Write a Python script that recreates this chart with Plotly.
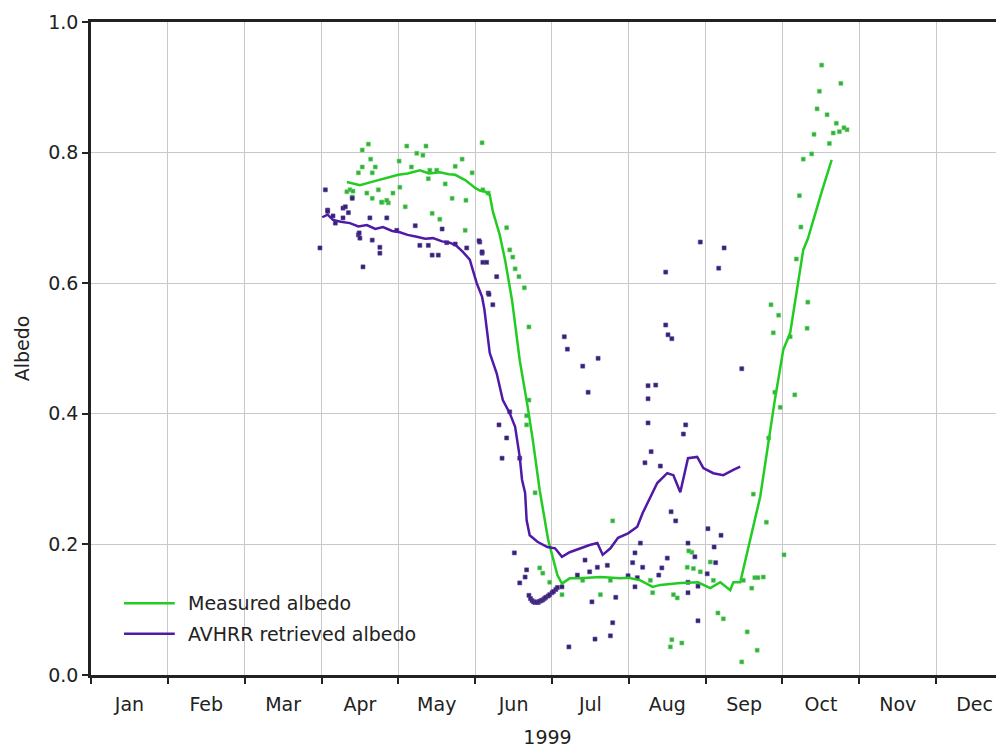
import plotly.graph_objects as go

months = ["Jan", "Feb", "Mar", "Apr", "May", "Jun", "Jul", "Aug", "Sep", "Oct", "Nov", "Dec"]
y_ticks = [0.0, 0.2, 0.4, 0.6, 0.8, 1.0]

# x in months since 1 Jan 1999 (uniform month widths as in the figure)
measured_line_x = [3.33, 3.50, 3.62, 3.76, 3.88, 4.00, 4.12, 4.28, 4.40, 4.54, 4.66, 4.74, 4.87, 5.00, 5.06, 5.13, 5.19,
                   5.23, 5.32, 5.39, 5.48, 5.58, 5.69, 5.75, 5.84, 5.95, 6.07, 6.13, 6.23, 6.36, 6.63, 6.89, 7.00,
                   7.15, 7.31, 7.41, 7.67, 7.90, 8.06, 8.19, 8.32, 8.36, 8.45, 8.71, 8.90, 9.01, 9.10, 9.20, 9.27,
                   9.33, 9.40, 9.51, 9.64]
measured_line_y = [0.755, 0.750, 0.754, 0.758, 0.762, 0.766, 0.768, 0.773, 0.768, 0.770, 0.767, 0.766, 0.758, 0.746,
                   0.742, 0.740, 0.735, 0.710, 0.674, 0.635, 0.574, 0.482, 0.406, 0.360, 0.283, 0.207, 0.153, 0.140,
                   0.148, 0.148, 0.150, 0.148, 0.149, 0.145, 0.135, 0.138, 0.141, 0.142, 0.133, 0.142, 0.130, 0.142,
                   0.142, 0.273, 0.421, 0.498, 0.524, 0.600, 0.651, 0.668, 0.697, 0.740, 0.789]

avhrr_line_x = [3.01, 3.08, 3.15, 3.25, 3.37, 3.48, 3.59, 3.70, 3.80, 3.92, 4.02, 4.12, 4.24, 4.35, 4.45, 4.57, 4.67,
                4.76, 4.84, 4.93, 4.97, 5.02, 5.09, 5.12, 5.19, 5.28, 5.36, 5.45, 5.52, 5.58, 5.61, 5.65, 5.67, 5.71,
                5.81, 5.94, 6.04, 6.13, 6.23, 6.36, 6.49, 6.59, 6.66, 6.76, 6.86, 6.99, 7.11, 7.18, 7.28, 7.37, 7.50,
                7.58, 7.67, 7.77, 7.89, 7.97, 8.10, 8.23, 8.36, 8.45]
avhrr_line_y = [0.701, 0.705, 0.697, 0.694, 0.692, 0.687, 0.689, 0.683, 0.686, 0.680, 0.678, 0.674, 0.671, 0.668,
                0.669, 0.664, 0.662, 0.657, 0.648, 0.636, 0.620, 0.600, 0.579, 0.560, 0.493, 0.462, 0.421, 0.401,
                0.380, 0.334, 0.299, 0.279, 0.237, 0.214, 0.204, 0.196, 0.194, 0.181, 0.188, 0.194, 0.199, 0.202,
                0.184, 0.194, 0.210, 0.217, 0.227, 0.248, 0.273, 0.294, 0.309, 0.306, 0.280, 0.332, 0.334, 0.317,
                0.309, 0.306, 0.314, 0.319]

measured_pts_x = [3.61, 3.53, 4.11, 4.36, 4.24, 4.32, 3.64, 3.70, 3.53, 3.48, 3.66, 4.01, 4.17, 4.41, 4.50, 4.83,
                  4.74, 5.09, 4.96, 4.39, 4.61, 3.37, 3.59, 3.74, 3.93, 4.02, 3.79, 3.87, 3.66, 4.09, 4.70, 4.88,
                  4.44, 4.54, 4.87, 3.41, 3.33, 5.10, 5.17, 3.40, 3.78, 3.85,
                  5.41, 5.45, 5.49, 5.52, 5.57, 5.64, 5.70, 5.70, 5.67, 5.67, 5.78,
                  6.79, 5.84, 5.88, 5.97, 6.13, 6.63, 6.40, 6.76, 7.28, 7.31, 7.58, 7.63, 7.76, 7.84, 7.93, 8.06,
                  7.82, 8.10, 8.16, 8.23, 7.56, 7.69, 7.54, 8.54, 8.47, 8.67, 8.60, 8.49, 8.64, 8.68, 7.78, 8.75,
                  8.85, 8.95, 8.88, 9.10, 9.33, 9.32, 9.18, 9.16, 8.90, 8.97, 8.82, 8.62, 8.79, 9.02,
                  9.51, 9.76, 9.48, 9.45, 9.58, 9.70, 9.66, 9.84, 9.41, 9.61, 9.38, 9.27, 9.22, 9.24, 9.80, 9.74]
measured_pts_y = [0.813, 0.804, 0.810, 0.810, 0.799, 0.796, 0.790, 0.778, 0.778, 0.769, 0.769, 0.787, 0.778, 0.773,
                  0.773, 0.790, 0.779, 0.815, 0.769, 0.760, 0.752, 0.743, 0.738, 0.743, 0.738, 0.747, 0.724, 0.723,
                  0.730, 0.717, 0.730, 0.727, 0.707, 0.698, 0.681, 0.741, 0.740, 0.743, 0.738, 0.732, 0.724, 0.727,
                  0.685, 0.651, 0.640, 0.622, 0.610, 0.593, 0.533, 0.421, 0.397, 0.383, 0.279,
                  0.236, 0.164, 0.156, 0.142, 0.123, 0.123, 0.145, 0.145, 0.145, 0.126, 0.123, 0.118, 0.165, 0.163,
                  0.158, 0.173, 0.188, 0.145, 0.095, 0.086, 0.054, 0.049, 0.043, 0.066, 0.020, 0.038, 0.133, 0.145,
                  0.149, 0.149, 0.190, 0.150,
                  0.567, 0.551, 0.524, 0.518, 0.571, 0.531, 0.637, 0.429, 0.433, 0.410, 0.363, 0.277, 0.234, 0.184,
                  0.934, 0.906, 0.894, 0.867, 0.858, 0.845, 0.830, 0.835, 0.828, 0.814, 0.798, 0.790, 0.734, 0.686,
                  0.838, 0.832]

avhrr_pts_x = [3.05, 2.98, 3.54, 3.08, 3.28, 3.35, 3.40, 3.48, 3.50, 3.66, 3.76, 3.76, 3.63, 3.85, 3.98, 4.22,
               4.28, 4.39, 4.44, 4.52, 4.57, 4.63, 4.74, 4.89, 5.06, 5.09, 5.10, 5.17, 3.28, 3.15, 3.08, 3.18, 3.31,
               3.49,
               5.05, 5.09, 5.15, 5.28, 5.18, 5.23, 5.31, 5.41, 5.35, 5.58, 5.45,
               6.16, 6.20, 6.40, 6.60, 6.47, 7.48, 7.51, 7.56, 7.25, 7.35, 7.25, 7.25, 7.29, 7.21, 7.41, 7.74, 7.71,
               7.55, 7.61, 8.47, 8.03, 8.20, 7.15, 7.77, 8.11, 8.17, 8.24, 7.93, 7.48,
               5.51, 5.58, 5.65, 5.67, 6.43, 6.59, 6.49, 6.72, 6.33, 6.13, 6.52, 6.83, 6.79, 6.76, 6.56, 6.22, 7.08,
               7.05, 7.18, 6.99, 7.11, 7.08, 7.50, 7.43, 7.39, 7.86, 8.13, 8.02, 7.77, 7.90, 7.77, 7.90,
               5.70, 5.72, 5.74, 5.76, 5.78, 5.80, 5.82, 5.84, 5.86, 5.88, 5.90, 5.92, 5.95, 5.97, 6.00, 6.02,
               6.05, 6.07]
avhrr_pts_y = [0.743, 0.654, 0.625, 0.712, 0.715, 0.708, 0.730, 0.674, 0.669, 0.666, 0.655, 0.646, 0.700, 0.700,
               0.681, 0.688, 0.658, 0.658, 0.643, 0.643, 0.683, 0.662, 0.660, 0.654, 0.663, 0.646, 0.632, 0.585,
               0.700, 0.703, 0.710, 0.692, 0.717, 0.677,
               0.665, 0.648, 0.632, 0.610, 0.583, 0.567, 0.383, 0.363, 0.332, 0.332, 0.403,
               0.518, 0.499, 0.473, 0.485, 0.433, 0.536, 0.521, 0.515, 0.443, 0.444, 0.423, 0.386, 0.342, 0.325,
               0.320, 0.383, 0.369, 0.250, 0.236, 0.469, 0.224, 0.214, 0.202, 0.202, 0.196, 0.623, 0.654, 0.663,
               0.617,
               0.187, 0.141, 0.150, 0.161, 0.176, 0.165, 0.158, 0.168, 0.153, 0.135, 0.112, 0.119, 0.080, 0.060,
               0.055, 0.043, 0.187, 0.172, 0.165, 0.152, 0.149, 0.135, 0.179, 0.164, 0.153, 0.181, 0.172, 0.155,
               0.142, 0.136, 0.126, 0.083,
               0.122, 0.117, 0.114, 0.112, 0.111, 0.112, 0.111, 0.113, 0.114, 0.115, 0.117, 0.119, 0.121, 0.123,
               0.126, 0.128, 0.131, 0.134]

GREEN_LINE = "#22cc22"
PURPLE_LINE = "#4f1aa6"
GREEN_PT = "#3aa845"
PURPLE_PT = "#35226e"
FONT = "DejaVu Sans"
FS = 19

fig = go.Figure()
fig.add_trace(go.Scatter(x=measured_pts_x, y=measured_pts_y, mode="markers", showlegend=False,
                         marker=dict(symbol="square", size=4, color=GREEN_PT,
                                     line=dict(width=1, color="rgba(90,220,90,0.6)"))))
fig.add_trace(go.Scatter(x=avhrr_pts_x, y=avhrr_pts_y, mode="markers", showlegend=False,
                         marker=dict(symbol="square", size=4, color=PURPLE_PT,
                                     line=dict(width=1, color="rgba(90,60,160,0.6)"))))
fig.add_trace(go.Scatter(x=measured_line_x, y=measured_line_y, mode="lines", name="Measured albedo",
                         showlegend=False, line=dict(color=GREEN_LINE, width=2.5)))
fig.add_trace(go.Scatter(x=avhrr_line_x, y=avhrr_line_y, mode="lines", name="AVHRR retrieved albedo",
                         showlegend=False, line=dict(color=PURPLE_LINE, width=2.5)))

# manual legend (lower left, inside plot)
legend_items = [("Measured albedo", GREEN_LINE, 0.110), ("AVHRR retrieved albedo", PURPLE_LINE, 0.063)]
for label, col, ly in legend_items:
    fig.add_shape(type="line", xref="x", yref="y", x0=0.43, x1=1.09, y0=ly, y1=ly,
                  line=dict(color=col, width=2.5))
    fig.add_annotation(x=1.23, y=ly, xref="x", yref="y", text=label, showarrow=False,
                       xanchor="left", yanchor="middle", font=dict(family=FONT, size=FS, color="#222"))

# the page body has an 8px default margin, so the figure is sized/positioned to compensate
fig.update_layout(
    width=996, height=741,
    margin=dict(l=83, r=0, t=14, b=74),
    paper_bgcolor="white", plot_bgcolor="white",
    font=dict(family=FONT, size=FS, color="#222"),
    xaxis=dict(
        range=[0, 11.883], tickmode="array", tickvals=[i + 0.5 for i in range(12)], ticktext=months,
        ticks="", showgrid=False, zeroline=False, ticklabelstandoff=10,
        showline=True, linecolor="#222", linewidth=2.5, mirror=True,
        minor=dict(tickmode="linear", tick0=0, dtick=1, ticks="outside", ticklen=6, tickwidth=2,
                   tickcolor="#222", showgrid=True, gridcolor="#c8c8c8", gridwidth=1),
        title=dict(text="1999", standoff=18, font=dict(family=FONT, size=FS)),
        automargin=False, fixedrange=True,
    ),
    yaxis=dict(
        range=[0, 1.0], tickmode="array", tickvals=y_ticks, ticktext=[f"{v:.1f}" for v in y_ticks],
        ticks="outside", ticklen=6, tickwidth=2, tickcolor="#222",
        showgrid=True, gridcolor="#c8c8c8", gridwidth=1, zeroline=False,
        showline=True, linecolor="#222", linewidth=2.5, mirror=False,
        title=dict(text="Albedo", standoff=14, font=dict(family=FONT, size=FS)),
        automargin=False, fixedrange=True,
    ),
)

fig.write_html("out.html")
